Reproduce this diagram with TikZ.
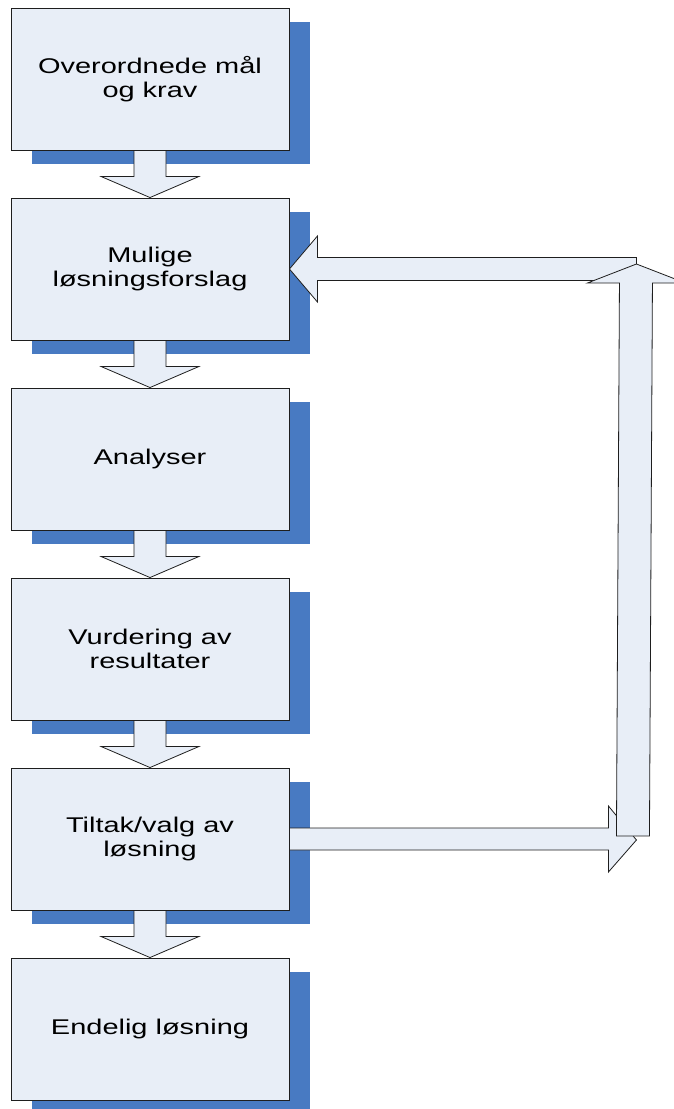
\documentclass[tikz,border=0pt]{standalone}
\usepackage{fontspec}
\newfontfamily\boxfont[FakeStretch=1.36]{Liberation Sans}
\usetikzlibrary{calc}
\pgfdeclarelayer{shadowlayer}
\pgfdeclarelayer{arrowlayer}
\pgfsetlayers{shadowlayer,arrowlayer,main}
\definecolor{boxfill}{RGB}{232,238,247}
\definecolor{shadowblue}{RGB}{72,122,194}
\definecolor{edgegray}{RGB}{30,30,30}
\tikzset{
  stepbox/.style={draw=edgegray, line width=0.9pt, fill=boxfill,
    minimum width=278pt, minimum height=142pt, inner sep=0pt,
    align=center, font=\boxfont\fontsize{21.3}{23.5}\selectfont},
  blockarrow/.style={draw=edgegray, line width=0.8pt, fill=boxfill, line join=miter},
  boxshadow/.style={fill=shadowblue}
}
\begin{document}
\begin{tikzpicture}[x=1pt, y=-1pt]
  \useasboundingbox (0,0) rectangle (673,1109);
  \clip (0,0) rectangle (673,1109);

  % process steps
  \node[stepbox] (b1) at (150,79)  {Overordnede mål\\og krav};
  \node[stepbox] (b2) at (150,269) {Mulige\\løsningsforslag};
  \node[stepbox] (b3) at (150,459) {Analyser};
  \node[stepbox] (b4) at (150,649) {Vurdering av\\resultater};
  \node[stepbox] (b5) at (150,839) {Tiltak/valg av\\løsning};
  \node[stepbox] (b6) at (150,1029) {Endelig løsning};

  % offset shadows behind each step
  \begin{pgfonlayer}{shadowlayer}
    \foreach \b in {b1,b2,b3,b4,b5,b6}
      \fill[boxshadow] ($(\b.south west)+(21,14)$) rectangle ($(\b.north east)+(21,14)$);
  \end{pgfonlayer}

  % corners of the feedback loop
  \coordinate (turnB) at ($(b5.east)+(347,0)$);
  \coordinate (turnT) at ($(b2.east)+(347,0)$);

  \begin{pgfonlayer}{arrowlayer}
    % block arrows between consecutive steps
    \foreach \a/\b in {b1/b2,b2/b3,b3/b4,b4/b5,b5/b6}
      \draw[blockarrow]
        ($(\a.south)+(-16,0)$) -- ($(\a.south)+(-16,26)$) -- ($(\a.south)+(-49,26)$)
        -- (\b.north) -- ($(\a.south)+(49,26)$) -- ($(\a.south)+(16,26)$)
        -- ($(\a.south)+(16,0)$);

    % from the chosen measure out to the loop
    \draw[blockarrow]
      ($(b5.east)+(0,-11)$) -- ($(turnB)+(-28,-11)$) -- ($(turnB)+(-28,-33)$)
      -- ($(turnB)+(0,1)$) -- ($(turnB)+(-28,33)$) -- ($(turnB)+(-28,11)$)
      -- ($(b5.east)+(0,11)$) -- cycle;

    % back into the proposals
    \draw[blockarrow]
      (b2.east) -- ($(b2.east)+(28,-33)$) -- ($(b2.east)+(28,-11.5)$)
      -- ($(turnT)+(0,-11.5)$) -- ($(turnT)+(0,11.5)$)
      -- ($(b2.east)+(28,11.5)$) -- ($(b2.east)+(28,33)$) -- cycle;

    % upward leg of the loop
    \draw[blockarrow]
      ($(turnT)+(0,-5)$) -- ($(turnT)+(49,14)$) -- ($(turnT)+(16,14)$)
      -- ($(turnB)+(13,-3)$) -- ($(turnB)+(-20,-3)$)
      -- ($(turnT)+(-17,14)$) -- ($(turnT)+(-49,14)$) -- cycle;
  \end{pgfonlayer}
\end{tikzpicture}
\end{document}
